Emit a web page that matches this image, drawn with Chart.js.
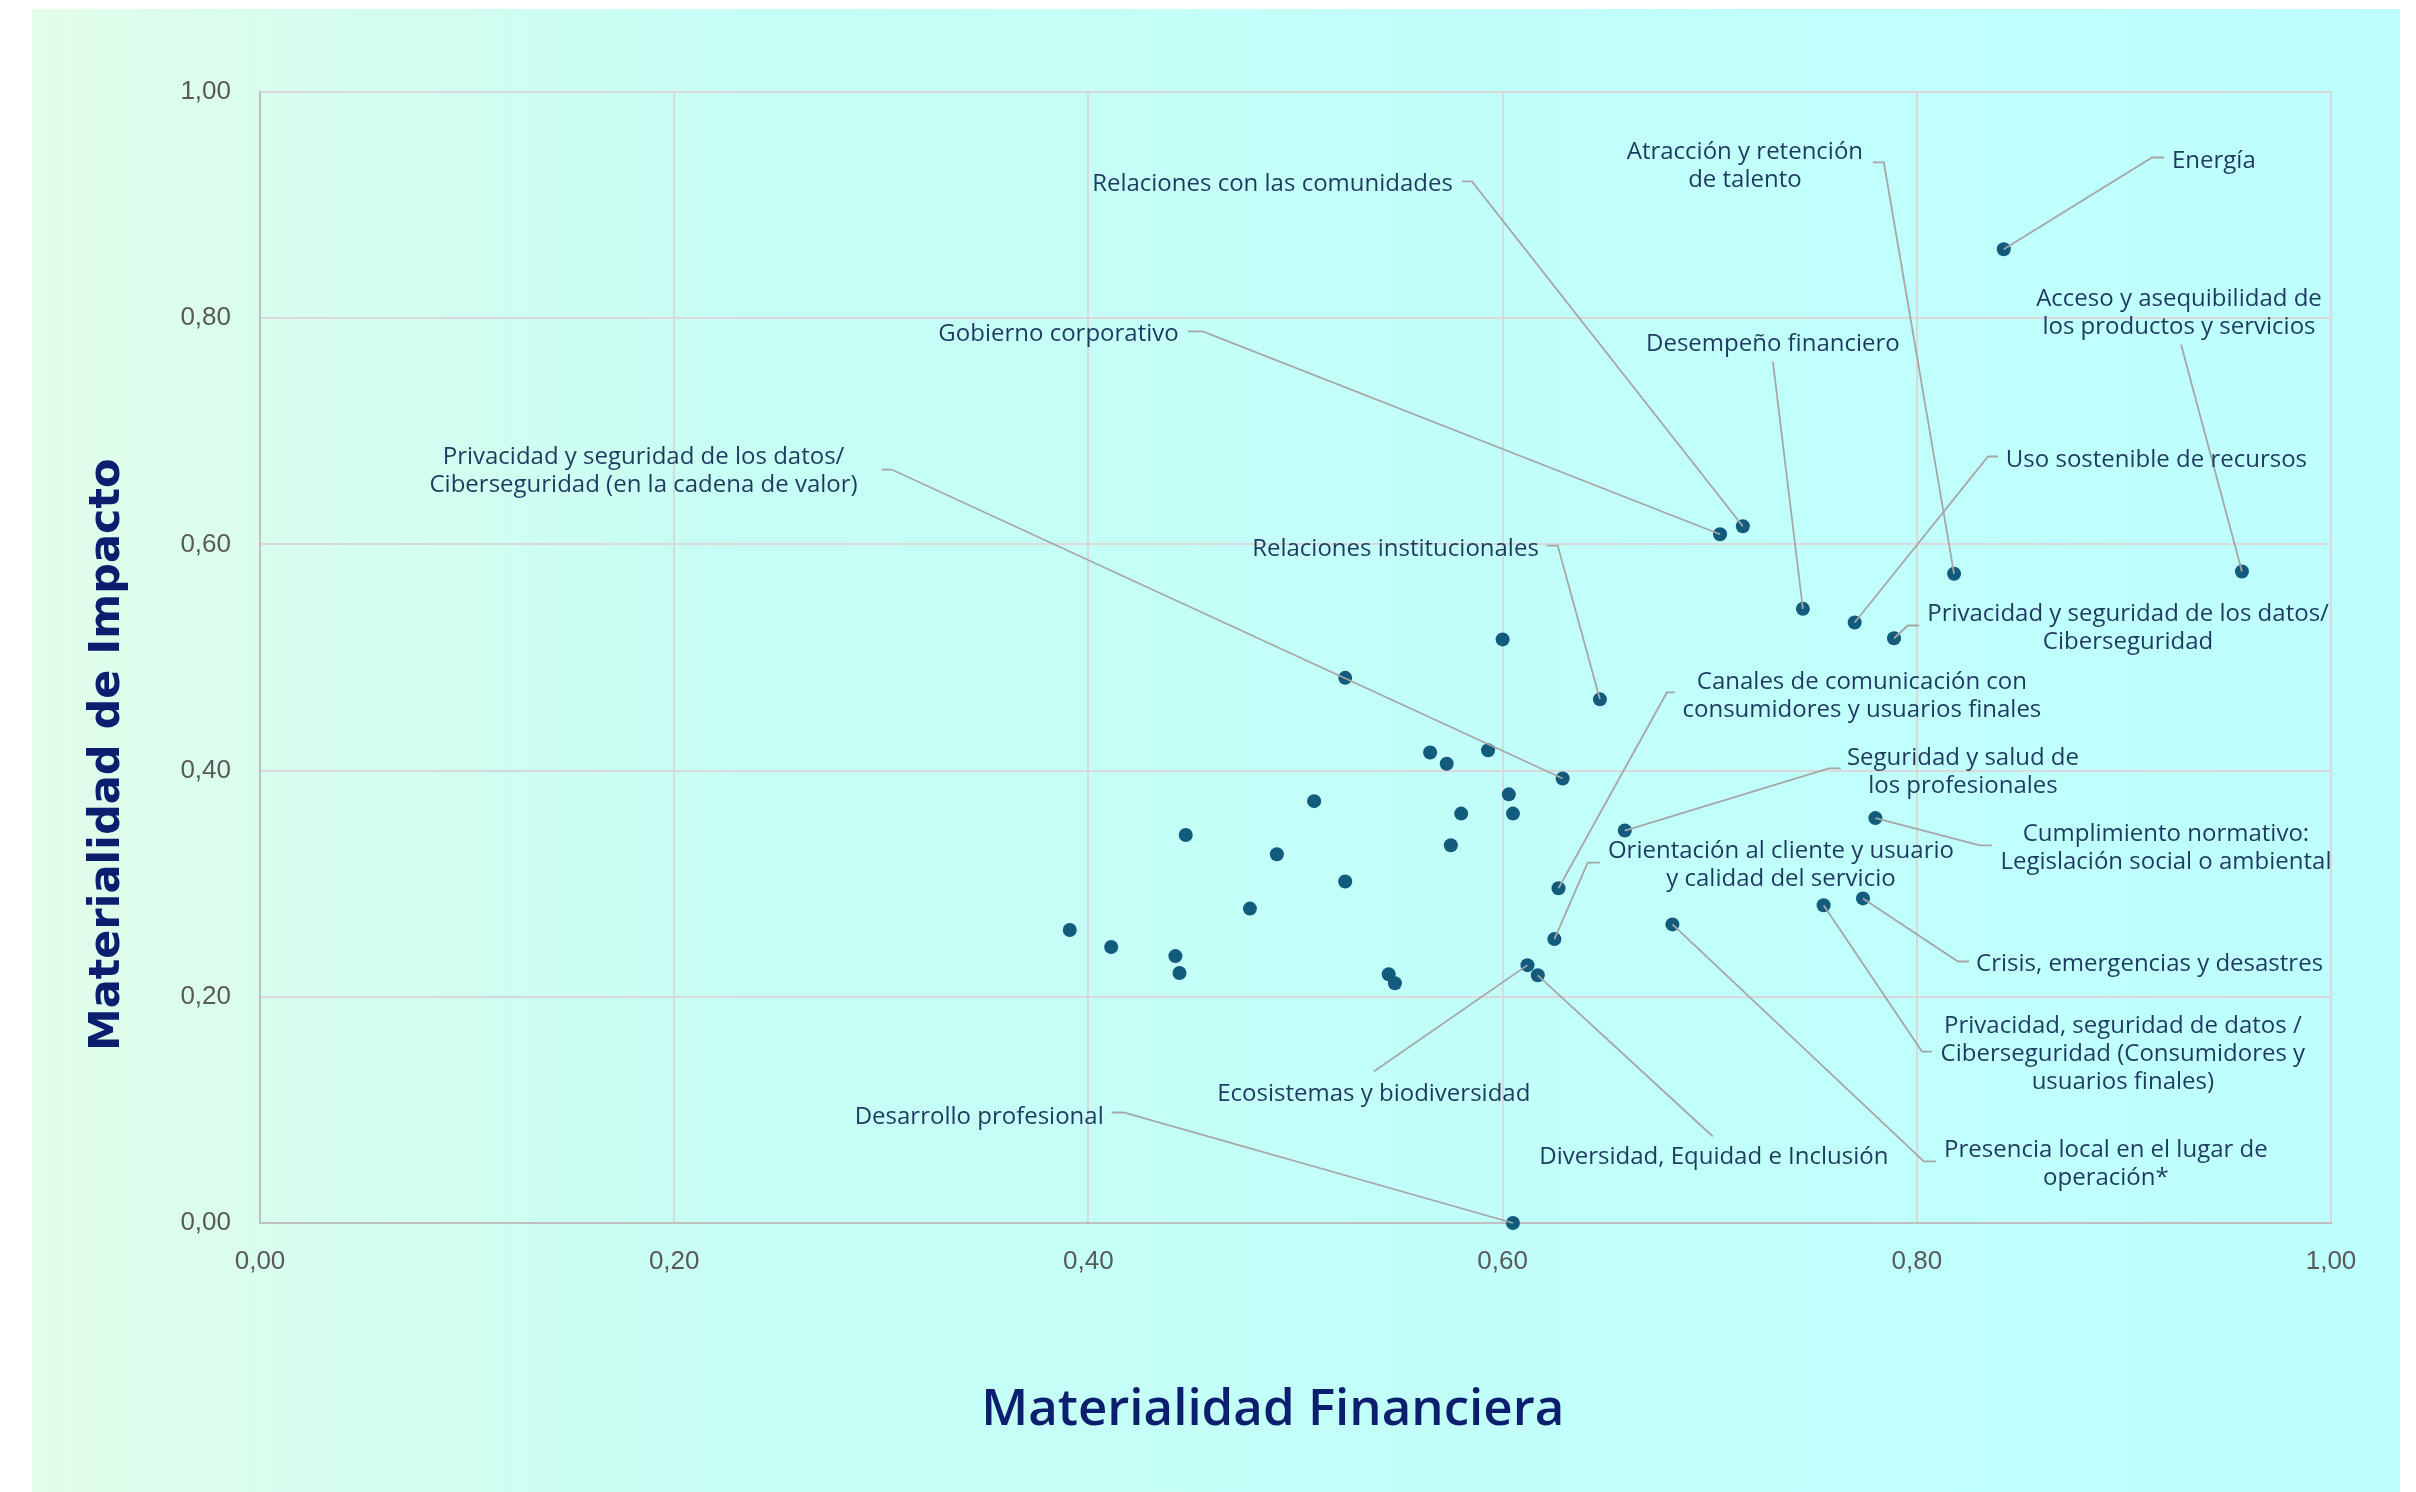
<!DOCTYPE html>
<html lang="es">
<head>
<meta charset="utf-8">
<title>Matriz de materialidad</title>
<script src="https://cdn.jsdelivr.net/npm/chart.js@4.4.0/dist/chart.umd.min.js"></script>
<style>
  html, body { margin: 0; padding: 0; background: #ffffff; }
  canvas { display: block; }
</style>
</head>
<body>
<canvas id="matriz" width="2416" height="1492"></canvas>
<script>
// temas materiales (los 20 primeros llevan etiqueta, '' = punto sin etiqueta)
var temas = [
  "Energía",
  "Acceso y asequibilidad de\nlos productos y servicios",
  "Atracción y retención\nde talento",
  "Relaciones con las comunidades",
  "Gobierno corporativo",
  "Desempeño financiero",
  "Uso sostenible de recursos",
  "Privacidad y seguridad de los datos/\nCiberseguridad",
  "Relaciones institucionales",
  "Privacidad y seguridad de los datos/\nCiberseguridad (en la cadena de valor)",
  "Canales de comunicación con\nconsumidores y usuarios finales",
  "Seguridad y salud de\nlos profesionales",
  "Cumplimiento normativo:\nLegislación social o ambiental",
  "Orientación al cliente y usuario\ny calidad del servicio",
  "Crisis, emergencias y desastres",
  "Privacidad, seguridad de datos /\nCiberseguridad (Consumidores y\nusuarios finales)",
  "Presencia local en el lugar de\noperación*",
  "Ecosistemas y biodiversidad",
  "Diversidad, Equidad e Inclusión",
  "Desarrollo profesional",
  "", "", "", "", "", "", "", "", "", "",
  "", "", "", "", "", "", "", "", "", ""
];

var materialidadFinanciera = [
  0.842, 0.957, 0.818, 0.716, 0.705, 0.745, 0.770, 0.789, 0.647, 0.629,
  0.627, 0.659, 0.780, 0.625, 0.774, 0.755, 0.682, 0.612, 0.617, 0.605,
  0.600, 0.524, 0.565, 0.573, 0.593, 0.603, 0.605, 0.580, 0.509, 0.575,
  0.447, 0.491, 0.524, 0.478, 0.391, 0.411, 0.442, 0.444, 0.545, 0.548
];

var materialidadImpacto = [
  0.861, 0.576, 0.574, 0.616, 0.609, 0.543, 0.531, 0.517, 0.463, 0.393,
  0.296, 0.347, 0.358, 0.251, 0.287, 0.281, 0.264, 0.228, 0.219, 0.000,
  0.516, 0.482, 0.416, 0.406, 0.418, 0.379, 0.362, 0.362, 0.373, 0.334,
  0.343, 0.326, 0.302, 0.278, 0.259, 0.244, 0.236, 0.221, 0.220, 0.212
];

var ticksEje = [0, 0.2, 0.4, 0.6, 0.8, 1];

// donde va cada etiqueta (en unidades de los ejes) y su alineación
var etiquetaAncla = [
  [0.9232, 0.9403], [0.9266, 0.8064], [0.7170, 0.9363], [0.5760, 0.9200], [0.4436, 0.7874],
  [0.7305, 0.7785], [0.8430, 0.6759], [0.9020, 0.5279], [0.6175, 0.5973], [0.1852, 0.6662],
  [0.7735, 0.4677], [0.8223, 0.4005], [0.9203, 0.3333], [0.7344, 0.3183], [0.8286, 0.2303],
  [0.8995, 0.1508], [0.8913, 0.0539], [0.5378, 0.1154], [0.7020, 0.0597], [0.4074, 0.0950]
];
var etiquetaAlinear = [
  "left", "center", "center", "right", "right",
  "center", "left", "center", "right", "center",
  "center", "center", "center", "center", "left",
  "center", "center", "center", "center", "right"
];
// conectores: del punto hasta el codo y la pestaña junto al texto
var etiquetaConector = [
  [[0.9136, 0.9421], [0.9194, 0.9421]],
  [[0.9276, 0.7767]],
  [[0.7841, 0.9377], [0.7788, 0.9377]],
  [[0.5852, 0.9209], [0.5804, 0.9209]],
  [[0.4552, 0.7883], [0.4480, 0.7883]],
  [[0.7305, 0.7617]],
  [[0.8344, 0.6777], [0.8392, 0.6777]],
  [[0.7957, 0.5283], [0.8010, 0.5283]],
  [[0.6266, 0.5990], [0.6213, 0.5990]],
  [[0.3050, 0.6662], [0.3002, 0.6662]],
  [[0.6793, 0.4691], [0.6832, 0.4691]],
  [[0.7575, 0.4019], [0.7633, 0.4019]],
  [[0.8305, 0.3338], [0.8363, 0.3338]],
  [[0.6411, 0.3187], [0.6469, 0.3187]],
  [[0.8199, 0.2312], [0.8252, 0.2312]],
  [[0.8025, 0.1516], [0.8073, 0.1516]],
  [[0.8034, 0.0544], [0.8092, 0.0544]],
  [[0.5378, 0.1340]],
  [[0.7015, 0.0765]],
  [[0.4170, 0.0977], [0.4112, 0.0977]]
];

var azulTitulo = "#0c1f6f";

// fondo, conectores, etiquetas y títulos de los ejes
var pluginEtiquetas = {
  id: "etiquetas",
  beforeDraw: function(chart) {
    var ctx = chart.ctx;
    ctx.save();
    ctx.fillStyle = "#ffffff";
    ctx.fillRect(0, 0, chart.width, chart.height);
    var g = ctx.createLinearGradient(32, 0, 2400, 0);
    g.addColorStop(0, "#e2fdea");
    g.addColorStop(0.3, "#c6fef5");
    g.addColorStop(1, "#bdfffe");
    ctx.fillStyle = g;
    ctx.fillRect(32, 9, 2368, 1483);
    ctx.restore();
  },
  afterDatasetsDraw: function(chart) {
    var ctx = chart.ctx;
    var xs = chart.scales.x, ys = chart.scales.y;
    ctx.save();

    ctx.strokeStyle = "#a6a6a6";
    ctx.lineWidth = 1.8;
    for (var i = 0; i < etiquetaAncla.length; i++) {
      ctx.beginPath();
      ctx.moveTo(xs.getPixelForValue(materialidadFinanciera[i]), ys.getPixelForValue(materialidadImpacto[i]));
      etiquetaConector[i].forEach(function(p) {
        ctx.lineTo(xs.getPixelForValue(p[0]), ys.getPixelForValue(p[1]));
      });
      ctx.stroke();
    }

    ctx.fillStyle = "#1f3a5f";
    ctx.font = '24px "Open Sans"';
    ctx.textBaseline = "middle";
    for (var j = 0; j < etiquetaAncla.length; j++) {
      var lineas = temas[j].split("\n");
      var cx = xs.getPixelForValue(etiquetaAncla[j][0]);
      var cy = ys.getPixelForValue(etiquetaAncla[j][1]) + 2;
      ctx.textAlign = etiquetaAlinear[j];
      for (var k = 0; k < lineas.length; k++) {
        ctx.fillText(lineas[k], cx, cy + (k - (lineas.length - 1) / 2) * 28);
      }
    }

    // títulos de los ejes
    var ca = chart.chartArea;
    ctx.fillStyle = azulTitulo;
    ctx.textAlign = "center";
    ctx.font = '600 51px "Open Sans"';
    ctx.fillText("Materialidad Financiera", ca.left + ca.width * 0.489, 1410);

    ctx.translate(108, ca.top + ca.height * 0.586);
    ctx.rotate(-Math.PI / 2);
    ctx.font = 'bold 43px "DejaVu Sans"';
    ctx.fillText("Materialidad de Impacto", 0, 0);
    ctx.restore();
  }
};

var puntos = materialidadFinanciera.map(function(x, i) {
  return { x: x, y: materialidadImpacto[i] };
});

function formatoComa(v) {
  return Number(v).toFixed(2).replace(".", ",");
}

new Chart(document.getElementById("matriz"), {
  type: "scatter",
  data: {
    datasets: [{
      label: "Temas materiales",
      data: puntos,
      backgroundColor: "#135b7d",
      borderWidth: 0,
      pointRadius: 7,
      clip: false
    }]
  },
  options: {
    responsive: false,
    animation: false,
    devicePixelRatio: 1,
    layout: { padding: { left: 0, top: 92, right: 85, bottom: 0 } },
    plugins: {
      legend: { display: false },
      tooltip: { enabled: false }
    },
    scales: {
      x: {
        type: "linear",
        min: 0,
        max: 1,
        afterBuildTicks: function(s) { s.ticks = ticksEje.map(function(v) { return { value: v }; }); },
        afterFit: function(s) { s.height = 269; },
        grid: { color: "#d9d9d9", lineWidth: 2, drawTicks: false },
        border: { color: "#bfbfbf", width: 2 },
        ticks: {
          padding: 23,
          color: "#595959",
          font: { family: "Liberation Sans, Arial, sans-serif", size: 26 },
          callback: formatoComa
        }
      },
      y: {
        type: "linear",
        min: 0,
        max: 1,
        afterBuildTicks: function(s) { s.ticks = ticksEje.map(function(v) { return { value: v }; }); },
        afterFit: function(s) { s.width = 260; },
        grid: { color: "#d9d9d9", lineWidth: 2, drawTicks: false },
        border: { color: "#bfbfbf", width: 2 },
        ticks: {
          padding: 29,
          color: "#595959",
          font: { family: "Liberation Sans, Arial, sans-serif", size: 26 },
          callback: formatoComa
        }
      }
    }
  },
  plugins: [pluginEtiquetas]
});
</script>
</body>
</html>
